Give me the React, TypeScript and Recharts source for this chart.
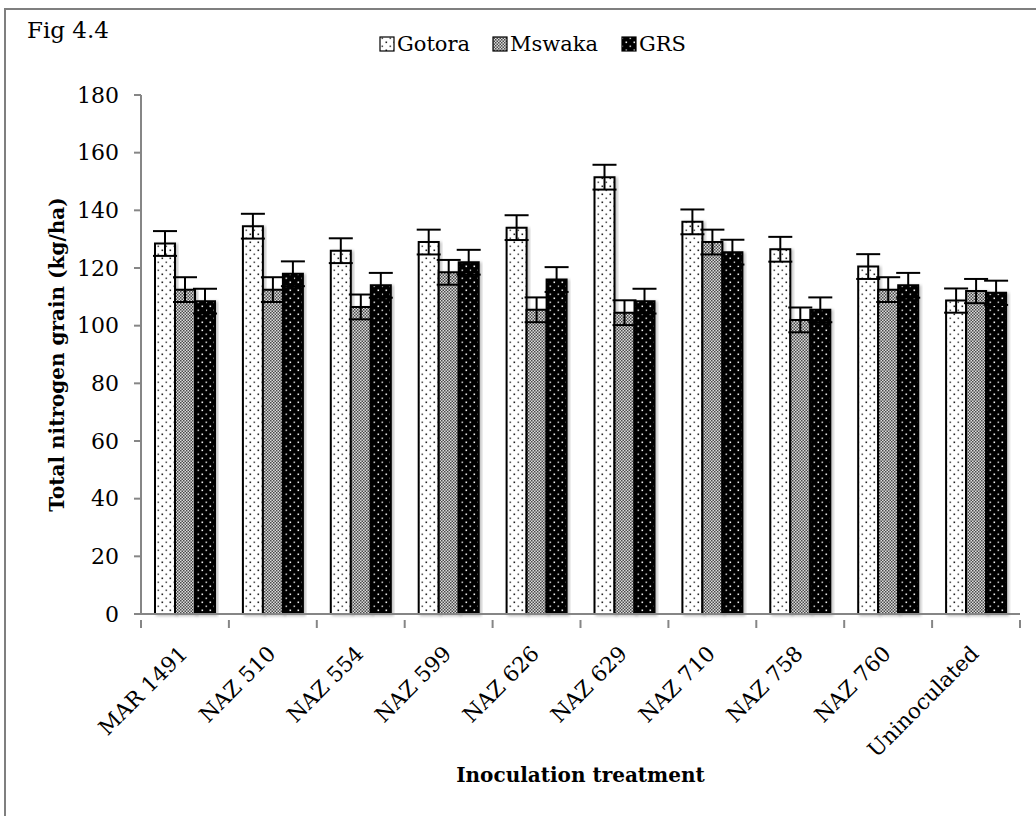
import React from 'react';
import { BarChart, Bar, XAxis, YAxis, ErrorBar } from 'recharts';

const categories = ['MAR 1491', 'NAZ 510', 'NAZ 554', 'NAZ 599', 'NAZ 626', 'NAZ 629', 'NAZ 710', 'NAZ 758', 'NAZ 760', 'Uninoculated'];
const gotora = [128.5, 134.5, 126, 129, 134, 151.5, 136, 126.5, 120.5, 108.7];
const mswaka = [112.5, 112.5, 106.5, 118.5, 105.5, 104.5, 129, 102, 112.5, 112];
const grs = [108.5, 118, 114, 122, 116, 108.5, 125.5, 105.5, 114, 111.4];
const gotoraErr = [4.3, 4.3, 4.3, 4.3, 4.3, 4.3, 4.3, 4.3, 4.3, 4.2];
const mswakaErr = [4.3, 4.3, 4.3, 4.3, 4.3, 4.3, 4.3, 4.3, 4.3, 4.2];
const grsErr = [4.3, 4.3, 4.3, 4.3, 4.3, 4.3, 4.3, 4.3, 4.3, 4.2];
const yTicks = [0, 20, 40, 60, 80, 100, 120, 140, 160, 180];
const seriesNames = ['Gotora', 'Mswaka', 'GRS'];

const data = categories.map((c, i) => ({
  name: c,
  Gotora: gotora[i],
  Mswaka: mswaka[i],
  GRS: grs[i],
  gErr: gotoraErr[i],
  mErr: mswakaErr[i],
  rErr: grsErr[i],
}));

const FONT = '"DejaVu Serif", serif';
const AXIS = '#868686';

const Patterns = ({ p }: { p: string }) => (
  <defs>
    <pattern id={`${p}dots`} width="8" height="8" patternUnits="userSpaceOnUse">
      <rect width="8" height="8" fill="#fff" />
      <rect x="1.5" y="1.5" width="1.6" height="1.6" fill="#222" />
      <rect x="5.5" y="5.5" width="1.6" height="1.6" fill="#555" />
    </pattern>
    <pattern id={`${p}check`} width="3" height="3" patternUnits="userSpaceOnUse">
      <rect width="3" height="3" fill="#dcdcdc" />
      <rect x="0" y="0" width="1.5" height="1.5" fill="#4a4a4a" />
      <rect x="1.5" y="1.5" width="1.5" height="1.5" fill="#4a4a4a" />
    </pattern>
    <pattern id={`${p}black`} width="8" height="8" patternUnits="userSpaceOnUse">
      <rect width="8" height="8" fill="#000" />
      <rect x="1.5" y="1.5" width="1.6" height="1.6" fill="#eee" />
      <rect x="5.5" y="5.5" width="1.6" height="1.6" fill="#bbb" />
    </pattern>
    <filter id={`${p}shadow`} x="-20%" y="-5%" width="140%" height="110%">
      <feDropShadow dx="2" dy="1" stdDeviation="1.5" floodColor="#000" floodOpacity="0.25" />
    </filter>
  </defs>
);

const fills = ['dots', 'check', 'black'];

const XTick = (props: any) => {
  const { x, y, payload, index } = props;
  const off = payload.offset || 0;
  const axisY = y - 2;
  return (
    <g>
      <line x1={x - off} x2={x - off} y1={axisY} y2={axisY + 8} stroke={AXIS} strokeWidth={2} />
      {index === categories.length - 1 && (
        <line x1={x + off} x2={x + off} y1={axisY} y2={axisY + 8} stroke={AXIS} strokeWidth={2} />
      )}
      <text
        x={x + 4}
        y={axisY + 35}
        transform={`rotate(-45, ${x + 4}, ${axisY + 35})`}
        textAnchor="end"
        fontFamily={FONT}
        fontSize={21.5}
        fill="#000"
      >
        {payload.value}
      </text>
    </g>
  );
};

const YLabel = (props: any) => {
  const vb = props.viewBox;
  const cx = vb.x + 57;
  const cy = vb.y + vb.height / 2;
  return (
    <text x={cx} y={cy} transform={`rotate(-90, ${cx}, ${cy})`} textAnchor="middle" dominantBaseline="central" fontFamily={FONT} fontWeight="bold" fontSize={20} fill="#000">
      Total nitrogen grain (kg/ha)
    </text>
  );
};

const XLabel = (props: any) => {
  const vb = props.viewBox;
  const cx = vb.x + vb.width / 2;
  return (
    <text x={cx} y={vb.y + 161} textAnchor="middle" dominantBaseline="central" fontFamily={FONT} fontWeight="bold" fontSize={20} fill="#000">
      Inoculation treatment
    </text>
  );
};

export default function App() {
  return (
    <div style={{ position: 'absolute', left: 0, top: 0, width: 1036, height: 816, background: '#fff' }}>
      <div style={{ position: 'absolute', left: 4, top: 8, width: 1032, height: 808, borderTop: '2px solid #7f7f7f', borderLeft: '2px solid #7f7f7f' }} />
      <BarChart
        width={1036}
        height={816}
        data={data}
        margin={{ top: 95, right: 16, bottom: 0, left: 0 }}
        barGap={0}
        barSize={20}
        style={{ position: 'absolute', left: 0, top: 0 }}
      >
        <Patterns p="c-" />
        <XAxis
          dataKey="name"
          height={202}
          axisLine={{ stroke: AXIS, strokeWidth: 2 }}
          tickLine={false}
          tick={<XTick />}
          interval={0}
          label={<XLabel />}
        />
        <YAxis
          width={141}
          domain={[0, 180]}
          ticks={yTicks}
          axisLine={{ stroke: AXIS, strokeWidth: 2 }}
          tickLine={{ stroke: AXIS, strokeWidth: 2 }}
          tickSize={7}
          tickMargin={15}
          tick={{ fill: '#000', fontFamily: FONT, fontSize: 22 }}
          label={<YLabel />}
        />
        <Bar dataKey="Gotora" fill="url(#c-dots)" stroke="#000" strokeWidth={2} isAnimationActive={false} style={{ filter: 'url(#c-shadow)' }}>
          <ErrorBar dataKey="gErr" width={12} stroke="#000" strokeWidth={2} direction="y" />
        </Bar>
        <Bar dataKey="Mswaka" fill="url(#c-check)" stroke="#000" strokeWidth={2} isAnimationActive={false} style={{ filter: 'url(#c-shadow)' }}>
          <ErrorBar dataKey="mErr" width={12} stroke="#000" strokeWidth={2} direction="y" />
        </Bar>
        <Bar dataKey="GRS" fill="url(#c-black)" stroke="#000" strokeWidth={2} isAnimationActive={false} style={{ filter: 'url(#c-shadow)' }}>
          <ErrorBar dataKey="rErr" width={12} stroke="#000" strokeWidth={2} direction="y" />
        </Bar>
      </BarChart>
      <svg width={1036} height={70} style={{ position: 'absolute', left: 0, top: 0, pointerEvents: 'none' }}>
        <Patterns p="l-" />
        <text x={27} y={38} fontFamily={FONT} fontSize={23} fill="#000">Fig 4.4</text>
        {seriesNames.map((s, i) => {
          const xs = [380, 493, 622][i];
          return (
            <g key={s}>
              <rect x={xs} y={37} width={14} height={14} fill={`url(#l-${fills[i]})`} stroke="#000" strokeWidth={1.2} />
              <text x={xs + 17} y={51} fontFamily={FONT} fontSize={21} fill="#000">{s}</text>
            </g>
          );
        })}
      </svg>
    </div>
  );
}
